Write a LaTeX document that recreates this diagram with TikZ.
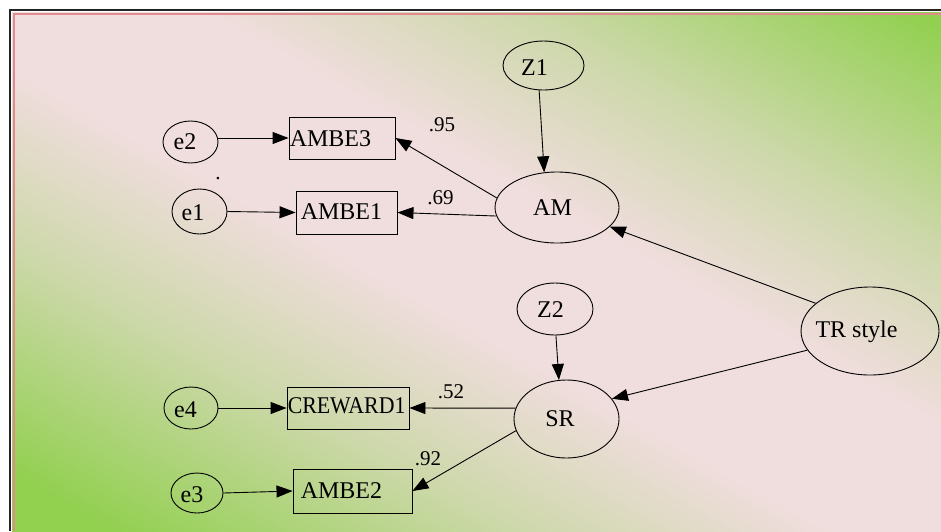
\documentclass[tikz,border=0pt]{standalone}
\usepackage{fontspec}
\usepackage{graphicx}
\setmainfont{Liberation Serif}
\usetikzlibrary{shapes.geometric,arrows.meta}

\definecolor{bgpink}{RGB}{240,221,221}
\definecolor{bgmid}{RGB}{205,216,170}
\definecolor{bggreen}{RGB}{146,208,80}
\definecolor{framedark}{RGB}{35,35,35}
\definecolor{framepink}{RGB}{224,140,142}

% green corners (top right, bottom left), pink band along the other diagonal
\pgfdeclarehorizontalshading{bgdiag}{100bp}{%
  color(0bp)=(bggreen); color(28bp)=(bggreen); color(38.75bp)=(bgmid);
  color(47bp)=(bgpink); color(55bp)=(bgpink);
  color(63.25bp)=(bgmid); color(73.75bp)=(bggreen); color(100bp)=(bggreen)}

\begin{document}
\begin{tikzpicture}[x=1pt,y=-1pt,
  every node/.style={font=\fontsize{24}{28}\selectfont},
  ell/.style={draw, ellipse, line width=0.9pt, inner sep=0pt},
  obs/.style={draw, rectangle, line width=0.9pt, inner sep=0pt},
  txt/.style={inner sep=0pt},
  boxtxt/.style={inner sep=0pt, anchor=base west},
  coef/.style={inner sep=0pt, font=\fontsize{21}{25}\selectfont},
  conn/.style={line width=0.9pt, -{Triangle[length=16pt,width=12pt]}}]

\useasboundingbox (0,0) rectangle (941,531);
\fill[white] (0,0) rectangle (941,531);

% background gradient
\begin{scope}
  \clip (12,12) rectangle (941,531);
  \begin{scope}[transform canvas={shift={(470.5,265.5)}, rotate=60.56}]
    \shade[shading=bgdiag] (-462.5,-1200) rectangle (462.5,1200);
  \end{scope}
\end{scope}

% frame along the top and left edges
\draw[framepink, line width=2pt] (13.5,531) -- (13.5,13.5) -- (941,13.5);
\draw[framedark, line width=2.2pt] (10,531) -- (10,10) -- (941,10);

% latent variables and disturbances
\node[ell, minimum width=81pt, minimum height=49pt,
  label={[txt,xshift=-9pt,yshift=-2.5pt]center:Z1}] (Z1) at (543.5,65.5) {};
\node[ell, minimum width=124pt, minimum height=71pt,
  label={[txt,xshift=-4.5pt]center:AM}] (AM) at (557,207.5) {};
\node[ell, minimum width=138pt, minimum height=88pt,
  label={[txt,xshift=-13.5pt,yshift=-1pt]center:TR style}] (TR) at (870,331) {};
\node[ell, minimum width=76pt, minimum height=52pt,
  label={[txt,xshift=-4.5pt,yshift=-1pt]center:Z2}] (Z2) at (555,309) {};
\node[ell, minimum width=105pt, minimum height=78pt,
  label={[txt,xshift=-6.5pt]center:SR}] (SR) at (566.5,419) {};

% error terms
\node[ell, minimum width=55pt, minimum height=42pt,
  label={[txt,xshift=-5.5pt,yshift=0.5pt]center:e2}] (e2) at (190.5,142) {};
\node[ell, minimum width=55pt, minimum height=45pt,
  label={[txt,xshift=-6.5pt,yshift=-1pt]center:e1}] (e1) at (199.5,211.5) {};
\node[ell, minimum width=54pt, minimum height=42pt,
  label={[txt,xshift=-5.5pt,yshift=-1.5pt]center:e4}] (e4) at (191,408) {};
\node[ell, minimum width=52pt, minimum height=40pt,
  label={[txt,xshift=-5pt,yshift=-1.5pt]center:e3}] (e3) at (197,493) {};

% observed indicators
\node[obs, minimum width=106pt, minimum height=42pt,
  label={[boxtxt,xshift=1pt,yshift=-8pt]west:AMBE3}] (AMBE3) at (342,138) {};
\node[obs, minimum width=101pt, minimum height=43pt,
  label={[boxtxt,xshift=5pt,yshift=-7pt]west:AMBE1}] (AMBE1) at (346.5,212.5) {};
\node[obs, minimum width=122pt, minimum height=42pt,
  label={[boxtxt,xshift=1pt,yshift=-5pt]west:\scalebox{0.91}[1]{CREWARD1}}] (CREWARD1) at (348,408) {};
\node[obs, minimum width=119pt, minimum height=44pt,
  label={[boxtxt,xshift=8pt,yshift=-7pt]west:AMBE2}] (AMBE2) at (352.5,491) {};

% paths
\draw[conn] (e2.east |- AMBE3.west) -- (AMBE3.west);
\draw[conn] (e1.east) -- (AMBE1.west);
\draw[conn] (e4.east) -- (CREWARD1.west);
\draw[conn] (e3.east) -- (AMBE2.west);
\draw[conn] (Z1.260) -- (AM.110);
\draw[conn] (AM.171) -- (AMBE3.east);
\draw[conn] (AM.188) -- (AMBE1.east);
\draw[conn] (TR.153) -- (AM.340);
\draw[conn] (TR.197) -- (SR.24);
\draw[conn] (Z2.272) -- (SR.101);
\draw[conn] (SR.168) -- (CREWARD1.east);
\draw[conn] (SR.193) -- (AMBE2.east);

% loadings
\node[coef] (c95) at (442,125) {.95};
\node[coef] (c69) at (440.5,197.5) {.69};
\node[coef] (c52) at (451,391.5) {.52};
\node[coef] (c92) at (428,458.5) {.92};
\node[coef] (dot) at (218,179) {.};
\end{tikzpicture}
\end{document}
